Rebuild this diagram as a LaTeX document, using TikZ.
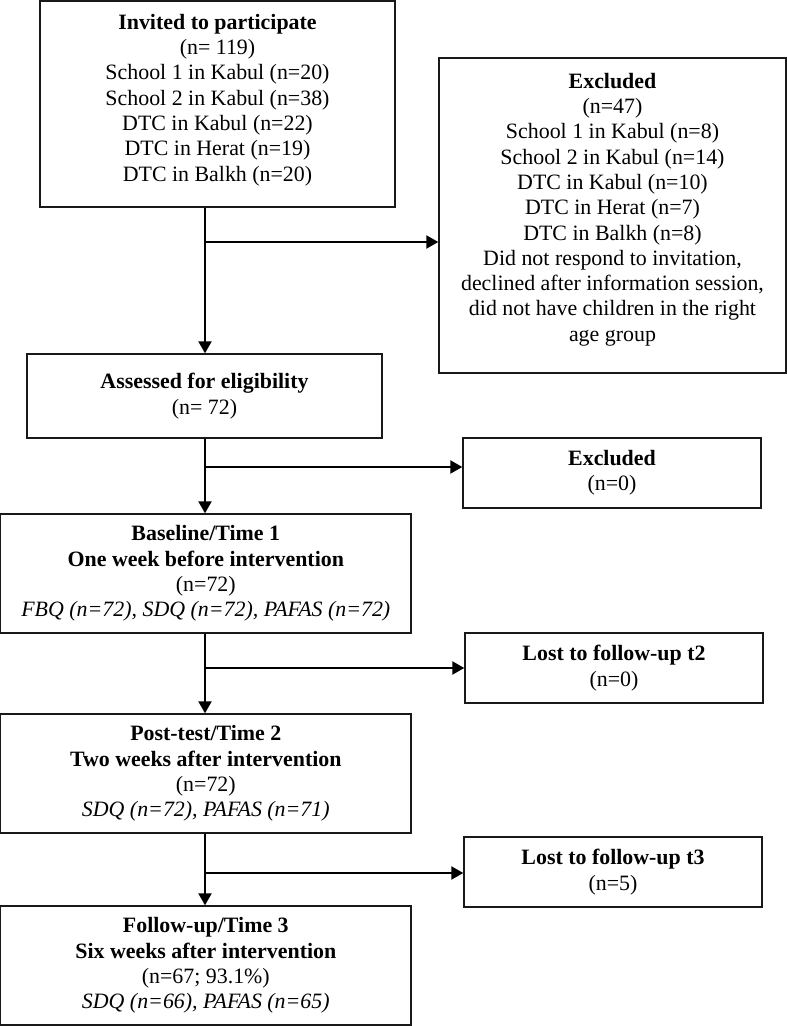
\documentclass[tikz,border=0pt]{standalone}
\usepackage{fontspec}
\setmainfont{Liberation Serif}
\usetikzlibrary{arrows.meta}
\begin{document}
\begin{tikzpicture}[x=1pt,y=-1pt,
  box/.style={draw=black!90, line width=1.4pt, rectangle, inner sep=0pt, align=center,
    font=\fontsize{21.9}{25.3}\selectfont},
  txt/.style={align=center, inner sep=0pt, font=\fontsize{21.9}{25.3}\selectfont},
  flow/.style={draw=black, line width=2.2pt, -{Triangle[length=12pt,width=13pt]}}]
\useasboundingbox (0,0) rectangle (787,1026);
% boxes
\node[box, minimum width=355pt, minimum height=206pt] (b1) at (217.5,104) {};
\node[txt] (b1t) at (217.5,100) {\textbf{Invited to participate}\\(n= 119)\\School 1 in Kabul (n=20)\\School 2 in Kabul (n=38)\\DTC in Kabul (n=22)\\DTC in Herat (n=19)\\DTC in Balkh (n=20)};
\node[box, minimum width=347pt, minimum height=315pt] (ex1) at (612.5,215.5) {};
\node[txt] (ex1t) at (612.5,209.5) {\textbf{Excluded}\\(n=47)\\School 1 in Kabul (n=8)\\School 2 in Kabul (n=14)\\DTC in Kabul (n=10)\\DTC in Herat (n=7)\\DTC in Balkh (n=8)\\Did not respond to invitation,\\declined after information session,\\did not have children in the right\\age group};
\node[box, minimum width=355pt, minimum height=84pt] (b2) at (204.5,396) {\textbf{Assessed for eligibility}\\(n= 72)};
\node[box, minimum width=298pt, minimum height=70pt] (ex2) at (612,473) {\textbf{Excluded}\\(n=0)};
\node[box, minimum width=410pt, minimum height=119pt] (b3) at (205.8,573.5) {\textbf{Baseline/Time 1}\\\textbf{One week before intervention}\\(n=72)\\\textit{FBQ (n=72), SDQ (n=72), PAFAS (n=72)}};
\node[box, minimum width=298pt, minimum height=70pt] (ex3) at (614,668) {\textbf{Lost to follow-up t2}\\(n=0)};
\node[box, minimum width=410pt, minimum height=119pt] (b4) at (205.8,773.5) {\textbf{Post-test/Time 2}\\\textbf{Two weeks after intervention}\\(n=72)\\\textit{SDQ (n=72), PAFAS (n=71)}};
\node[box, minimum width=298pt, minimum height=70pt] (ex4) at (613,872) {\textbf{Lost to follow-up t3}\\(n=5)};
\node[box, minimum width=410pt, minimum height=119pt] (b5) at (205.8,965.5) {\textbf{Follow-up/Time 3}\\\textbf{Six weeks after intervention}\\(n=67; 93.1\%)\\\textit{SDQ (n=66), PAFAS (n=65)}};
% junctions
\coordinate (j1) at (205,242);
\coordinate (j2) at (205,467);
\coordinate (j3) at (205,668);
\coordinate (j4) at (205,873);
% vertical flow
\draw[flow] (j1 |- b1.south) -- (j1 |- b2.north);
\draw[flow] (j2 |- b2.south) -- (j2 |- b3.north);
\draw[flow] (j3 |- b3.south) -- (j3 |- b4.north);
\draw[flow] (j4 |- b4.south) -- (j4 |- b5.north);
% side arrows
\draw[flow] (j1) -- (j1 -| ex1.west);
\draw[flow] (j2) -- (j2 -| ex2.west);
\draw[flow] (j3) -- (j3 -| ex3.west);
\draw[flow] (j4) -- (j4 -| ex4.west);
\end{tikzpicture}
\end{document}
